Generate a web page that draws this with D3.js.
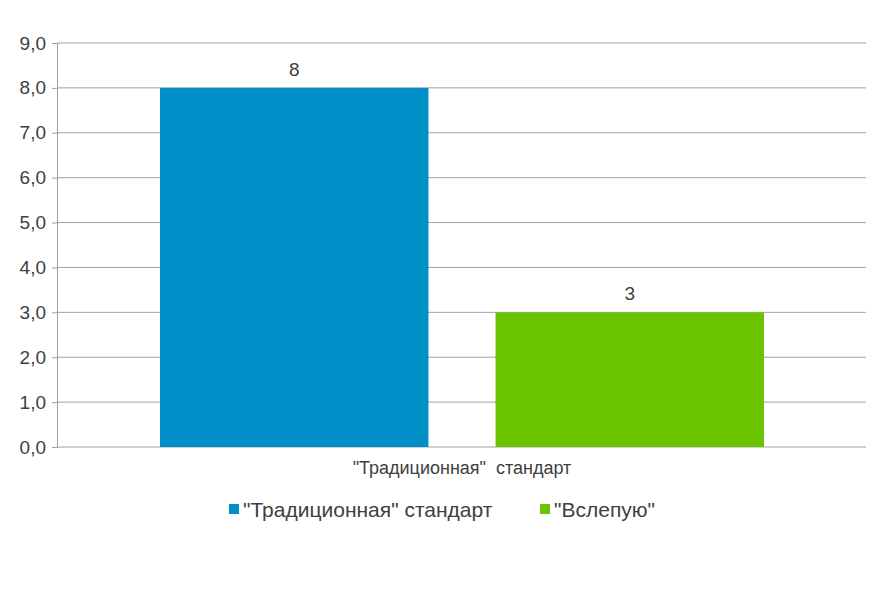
<!DOCTYPE html>
<html><head><meta charset="utf-8">
<script src="https://cdn.jsdelivr.net/npm/d3@7"></script>
<style>body{margin:0;background:#fff} text{font-family:"Liberation Sans Narrow","Arial Narrow",Arial,sans-serif;fill:#404040}</style>
</head><body><svg id="c" width="880" height="590"></svg>
<script>
// Chart data
var category = '"Традиционная"  стандарт';
var seriesNames = ['"Традиционная" стандарт', '"Вслепую"'];
var seriesValues = [8, 3];
var seriesColors = ["#008fc7", "#6cc300"];
var yTicks = [0, 1, 2, 3, 4, 5, 6, 7, 8, 9];

var svg = d3.select("#c");
var plotLeft = 57, plotRight = 866, plotTop = 43, plotBottom = 447;

var y = d3.scaleLinear().domain([0, 9]).range([plotBottom, plotTop]);
var x = d3.scaleBand().domain(seriesNames).range([160, 764]).paddingInner(0.2);

// Gridlines
svg.selectAll(".grid").data(yTicks).enter().append("line")
    .attr("x1", plotLeft).attr("x2", plotRight)
    .attr("y1", function(d) { return y(d); }).attr("y2", function(d) { return y(d); })
    .attr("stroke", "#a0a0a0").attr("stroke-width", 1);

// Y axis
var yAxis = svg.append("g").attr("transform", "translate(" + plotLeft + ",0)")
    .call(d3.axisLeft(y).tickValues(yTicks).tickSize(5).tickPadding(6)
        .tickFormat(function(d) { return d3.format(".1f")(d).replace(".", ","); }));
yAxis.select(".domain").attr("stroke", "#a0a0a0");
yAxis.selectAll(".tick line").attr("stroke", "#a0a0a0");
yAxis.selectAll("text").attr("font-size", 19).attr("fill", "#404040")
    .attr("font-family", "Liberation Sans Narrow, Arial Narrow, Arial");

// Bars
svg.selectAll(".bar").data(seriesValues).enter().append("rect")
    .attr("x", function(d, i) { return x(seriesNames[i]); })
    .attr("width", x.bandwidth())
    .attr("y", function(d) { return y(d); })
    .attr("height", function(d) { return plotBottom - y(d); })
    .attr("fill", function(d, i) { return seriesColors[i]; });

// Value labels
svg.selectAll(".val").data(seriesValues).enter().append("text")
    .attr("x", function(d, i) { return x(seriesNames[i]) + x.bandwidth() / 2; })
    .attr("y", function(d) { return y(d) - 12; })
    .attr("text-anchor", "middle").attr("font-size", 19)
    .text(function(d) { return d; });

// Category label
svg.append("text").attr("x", 462).attr("y", 474).attr("text-anchor", "middle")
    .attr("font-size", 18).attr("xml:space", "preserve").text(category);

// Legend
var legendX = [229, 540];
var legend = svg.selectAll(".leg").data(seriesNames).enter().append("g")
    .attr("transform", function(d, i) { return "translate(" + legendX[i] + ",510)"; });
legend.append("rect").attr("x", 0).attr("y", -6).attr("width", 10).attr("height", 10)
    .attr("fill", function(d, i) { return seriesColors[i]; });
legend.append("text").attr("x", 14).attr("y", 7).attr("font-size", 21)
    .text(function(d) { return d; });
</script></body></html>
